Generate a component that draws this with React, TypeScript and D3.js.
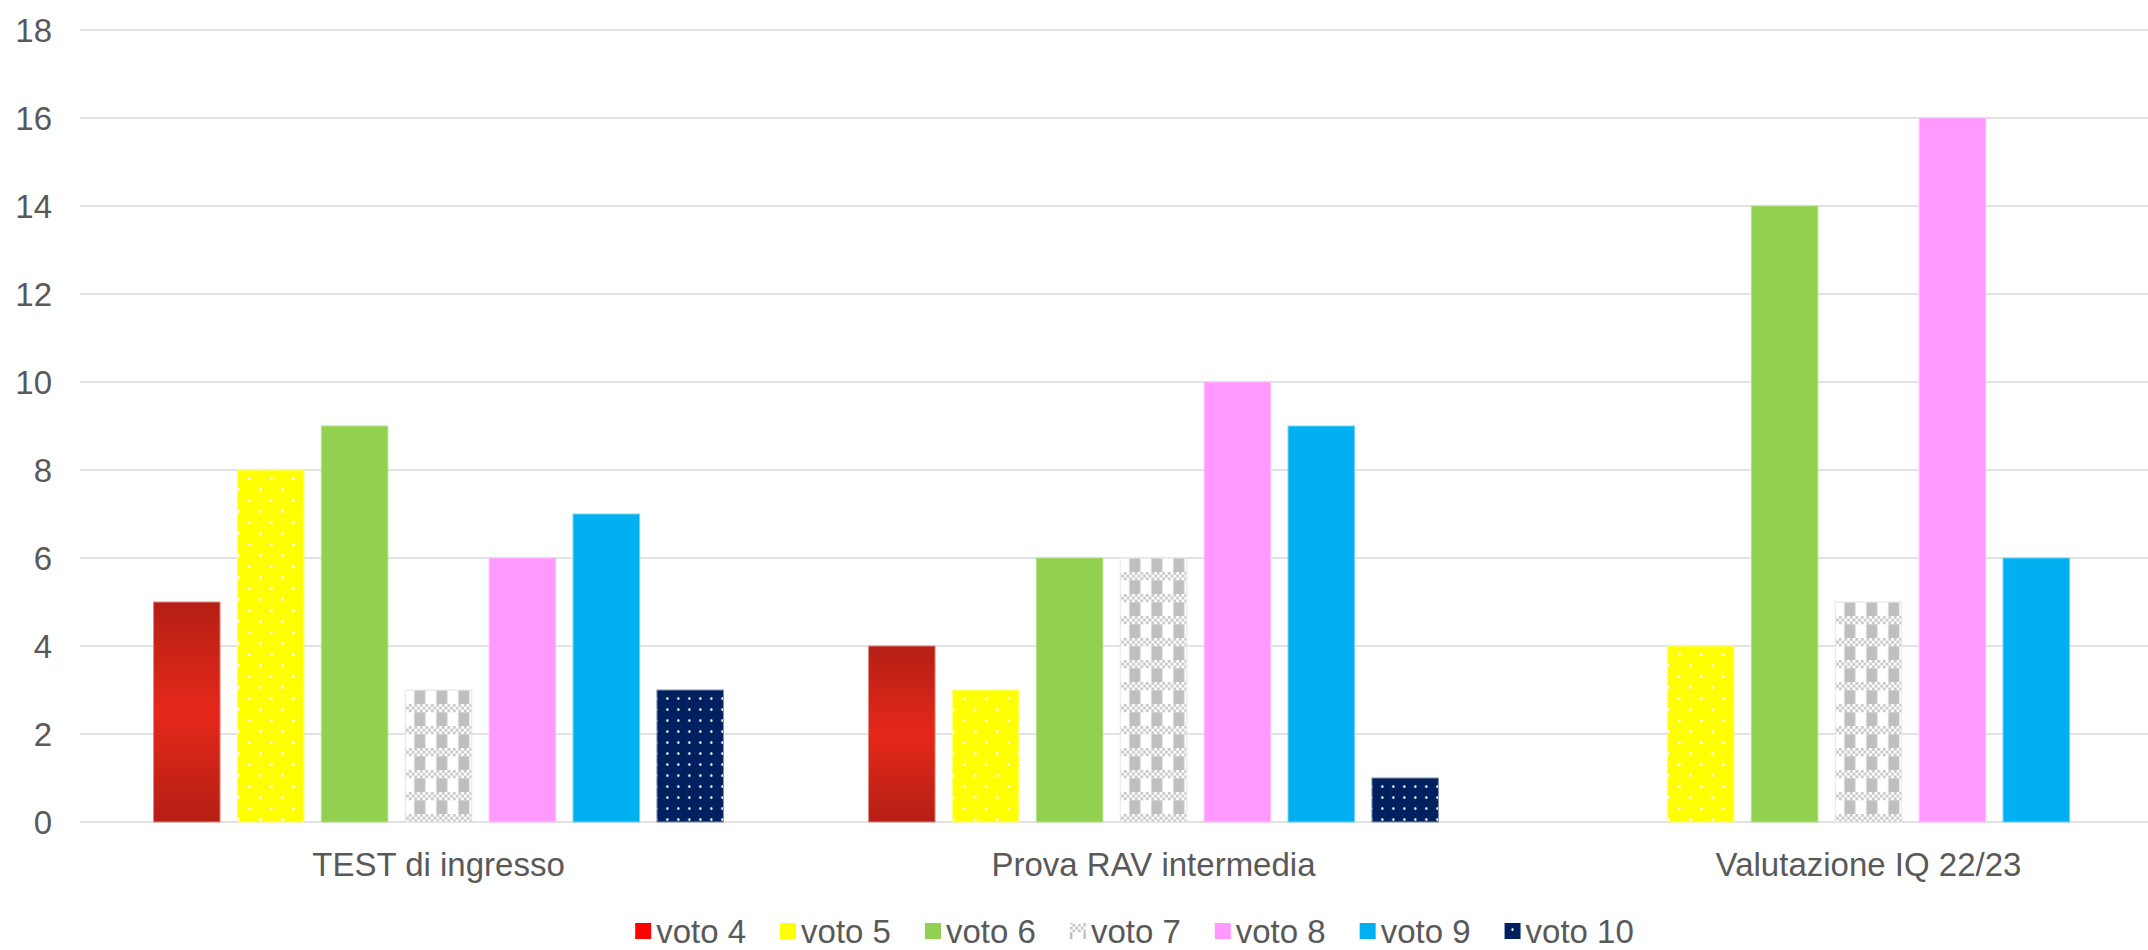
import React from "react";
import * as d3 from "d3";

const categories = ["TEST di ingresso", "Prova RAV intermedia", "Valutazione IQ 22/23"];
const seriesNames = ["voto 4", "voto 5", "voto 6", "voto 7", "voto 8", "voto 9", "voto 10"];
const voto4 = [5, 4, 0];
const voto5 = [8, 3, 4];
const voto6 = [9, 6, 14];
const voto7 = [3, 6, 5];
const voto8 = [6, 10, 16];
const voto9 = [7, 9, 6];
const voto10 = [3, 1, 0];
const seriesValues = [voto4, voto5, voto6, voto7, voto8, voto9, voto10];
const yTicks = [0, 2, 4, 6, 8, 10, 12, 14, 16, 18];

const W = 2148;
const H = 950;
const FONT = "'Liberation Sans', Arial, sans-serif";
const TEXT = "#595959";

const barFills = [
  "url(#gradRed)",
  "url(#patYellow)",
  "#92d050",
  "url(#patGray)",
  "#ff99ff",
  "#00b0f0",
  "url(#patNavy)",
];
const legendFills = [
  "#ff0000",
  "url(#patYellow)",
  "#92d050",
  "url(#patGray)",
  "#ff99ff",
  "#00b0f0",
  "url(#patNavy)",
];
const barStrokes = ["#e08a80", "#ffff80", "#b6e08c", "#e6e6e6", "#ffc2ff", "#70d4f7", "#7f91b4"];

function measure(text: string, size: number): number {
  try {
    const c = document.createElement("canvas");
    const ctx = c.getContext("2d");
    if (ctx) {
      ctx.font = `${size}px 'Liberation Sans', Arial, sans-serif`;
      return ctx.measureText(text).width;
    }
  } catch (e) {}
  return text.length * size * 0.5;
}

export default function App() {
  const x0 = d3
    .scaleBand<string>()
    .domain(categories)
    .range([81, 2226])
    .paddingInner(0.1786)
    .paddingOuter(0.0893);
  const x1 = d3
    .scaleBand<string>()
    .domain(seriesNames)
    .range([0, x0.bandwidth()])
    .paddingInner(0.207)
    .paddingOuter(0.1035);
  const y = d3.scaleLinear().domain([0, 18]).range([822, 30]);

  // checker cells for the gray pattern band
  const cell = 22 / 8;
  const checker: { x: number; y: number }[] = [];
  for (let r = 0; r < 3; r++) {
    for (let c = 0; c < 8; c++) {
      if ((r + c) % 2 === 0) checker.push({ x: c * cell, y: r * cell });
    }
  }

  // legend layout
  const legendFont = 33;
  const sw = 16;
  const swGap = 5;
  const itemGap = 34;
  const widths = seriesNames.map((s) => measure(s, legendFont));
  const total =
    widths.reduce((a, w) => a + sw + swGap + w, 0) + itemGap * (seriesNames.length - 1);
  const legendCenter = 1134.5;
  let cursor = legendCenter - total / 2;
  const legendItems = seriesNames.map((s, i) => {
    const item = { name: s, x: cursor, fill: legendFills[i] };
    cursor += sw + swGap + widths[i] + itemGap;
    return item;
  });
  const legendY = 931;

  return (
    <div style={{ position: "absolute", left: 0, top: 0 }}>
      <svg width={W} height={H} style={{ display: "block", background: "#fff" }}>
        <defs>
          <linearGradient id="gradRed" x1="0" y1="0" x2="0" y2="1">
            <stop offset="0" stopColor="#b51f15" />
            <stop offset="0.5" stopColor="#e5281a" />
            <stop offset="1" stopColor="#b51f15" />
          </linearGradient>
          <pattern id="patYellow" width={22} height={22} patternUnits="userSpaceOnUse">
            <rect width={22} height={22} fill="#ffff00" />
            <circle cx={5.5} cy={5.5} r={1.4} fill="#ffffff" />
            <circle cx={16.5} cy={16.5} r={1.4} fill="#ffffff" />
          </pattern>
          <pattern id="patNavy" width={11} height={11} patternUnits="userSpaceOnUse">
            <rect width={11} height={11} fill="#002060" />
            <ellipse cx={5.5} cy={5.5} rx={1.1} ry={1.5} fill="#ffffff" />
          </pattern>
          <pattern id="patGray" width={22} height={22} patternUnits="userSpaceOnUse">
            <rect width={22} height={22} fill="#ffffff" />
            <rect x={5.5} y={0} width={11} height={22} fill="#bfbfbf" />
            <rect x={0} y={0} width={22} height={cell * 3} fill="#ffffff" />
            {checker.map((c, i) => (
              <rect key={i} x={c.x} y={c.y} width={cell} height={cell} fill="#c8c8c8" />
            ))}
          </pattern>
        </defs>

        {/* gridlines */}
        {yTicks.map((t) => (
          <line
            key={t}
            x1={80}
            x2={W}
            y1={y(t)}
            y2={y(t)}
            stroke="#d9d9d9"
            strokeWidth={1.6}
          />
        ))}

        {/* y tick labels */}
        {yTicks.map((t) => (
          <text
            key={"l" + t}
            x={52}
            y={y(t)}
            dy="0.36em"
            textAnchor="end"
            fontFamily={FONT}
            fontSize={33}
            fill={TEXT}
          >
            {t}
          </text>
        ))}

        {/* bars */}
        {categories.map((cat, ci) => (
          <g key={cat} transform={`translate(${x0(cat)},0)`}>
            {seriesNames.map((s, si) => {
              const v = seriesValues[si][ci];
              if (!v) return null;
              return (
                <rect
                  key={s}
                  x={x1(s)}
                  y={y(v)}
                  width={x1.bandwidth()}
                  height={y(0) - y(v)}
                  fill={barFills[si]}
                  stroke={barStrokes[si]}
                  strokeWidth={1}
                />
              );
            })}
          </g>
        ))}

        {/* x labels */}
        {categories.map((cat) => (
          <text
            key={"x" + cat}
            x={(x0(cat) as number) + x0.bandwidth() / 2}
            y={876}
            textAnchor="middle"
            fontFamily={FONT}
            fontSize={33}
            fill={TEXT}
          >
            {cat}
          </text>
        ))}

        {/* legend */}
        {legendItems.map((it) => (
          <g key={it.name}>
            <rect x={it.x} y={legendY - sw / 2} width={sw} height={sw} fill={it.fill} />
            <text
              x={it.x + sw + swGap}
              y={legendY}
              dy="0.36em"
              fontFamily={FONT}
              fontSize={legendFont}
              fill={TEXT}
            >
              {it.name}
            </text>
          </g>
        ))}
      </svg>
    </div>
  );
}
